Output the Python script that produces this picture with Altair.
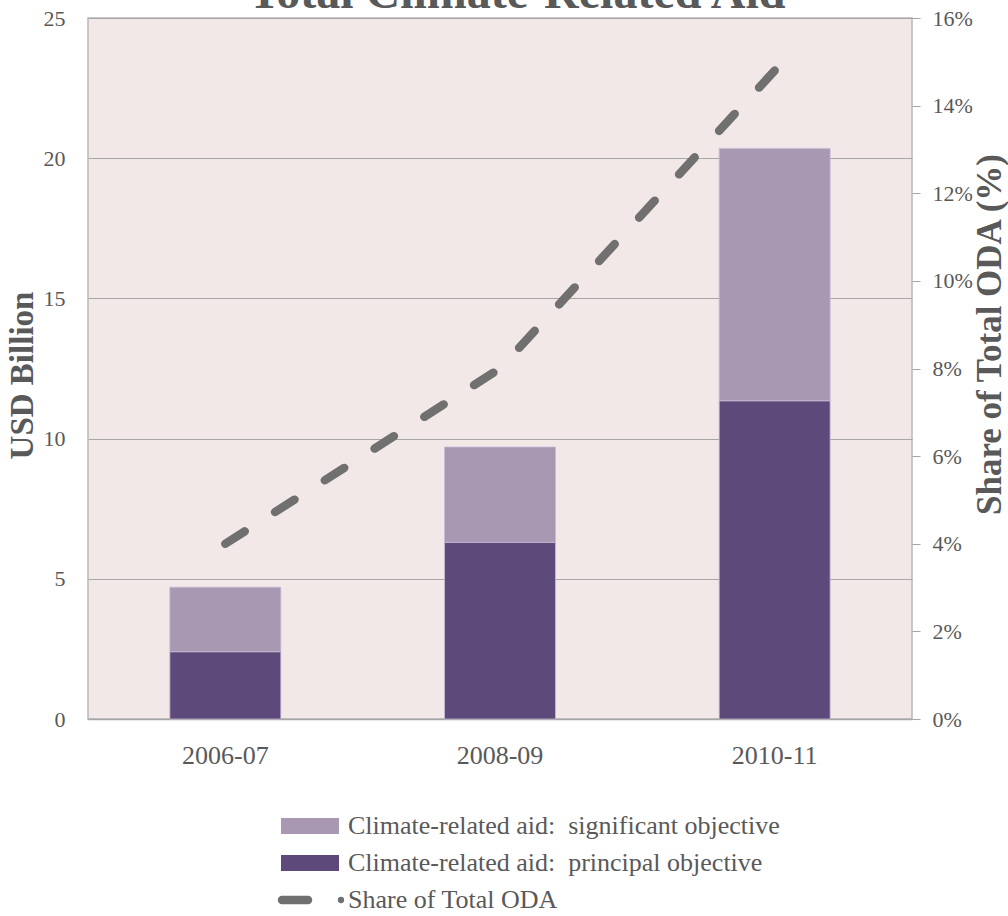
import altair as alt
import pandas as pd

periods = ["2006-07", "2008-09", "2010-11"]
principal = [2.4, 6.3, 11.35]
significant = [2.3, 3.4, 9.0]
share_oda = [0.040, 0.080, 0.148]

series_sig = "Climate-related aid:\u00a0 significant objective"
series_pri = "Climate-related aid:\u00a0 principal objective"
series_line = "Share of Total ODA"
title_text = "Total Climate-Related Aid"

FONT = "Liberation Serif"
GRAY = "#595959"

rows = []
for p, v in zip(periods, principal):
    rows.append({"period": p, "series": series_pri, "value": v, "ord": 0})
for p, v in zip(periods, significant):
    rows.append({"period": p, "series": series_sig, "value": v, "ord": 1})
bars_df = pd.DataFrame(rows)
line_df = pd.DataFrame({"period": periods, "share": share_oda})

xscale = alt.Scale(domain=periods, paddingInner=0.596, paddingOuter=0.298)
xaxis = alt.Axis(title=None, labelFont=FONT, labelFontSize=26, labelColor=GRAY,
                 labelPadding=23, ticks=False, domainColor="#A6A6A6", domainWidth=1.5,
                 labelAngle=0)

bars = alt.Chart(bars_df).mark_bar(stroke="#C9B9D6", strokeWidth=0.8).encode(
    x=alt.X("period:N", scale=xscale, axis=xaxis, sort=periods),
    y=alt.Y("value:Q", stack="zero",
            scale=alt.Scale(domain=[0, 25], nice=False),
            axis=alt.Axis(title="USD Billion", values=[0, 5, 10, 15, 20, 25],
                          labelFont=FONT, labelFontSize=22, labelColor=GRAY,
                          labelPadding=23, ticks=False, domain=False,
                          gridColor="#A6A6A6", gridWidth=1.2,
                          titleFont=FONT, titleFontSize=33, titleFontWeight="bold",
                          titleColor=GRAY, titleX=-66, titleY=357,
                          titleAlign="center", titleBaseline="middle")),
    color=alt.Color("series:N",
                    scale=alt.Scale(domain=[series_sig, series_pri],
                                    range=["#A898B2", "#5E4A7A"]),
                    legend=None),
    order=alt.Order("ord:Q"),
)

line = alt.Chart(line_df).mark_line(
    color="#707070", strokeWidth=8.5, strokeDash=[23, 36], strokeCap="round"
).encode(
    x=alt.X("period:N", scale=xscale, sort=periods, axis=xaxis),
    y=alt.Y("share:Q", scale=alt.Scale(domain=[0, 0.16], nice=False),
            axis=alt.Axis(title="Share of Total ODA (%)", orient="right", format=".0%",
                          values=[0, 0.02, 0.04, 0.06, 0.08, 0.10, 0.12, 0.14, 0.16],
                          labelFont=FONT, labelFontSize=22, labelColor=GRAY,
                          labelPadding=12, ticks=True, tickSize=8, tickColor="#A6A6A6",
                          domain=False, grid=False,
                          titleFont=FONT, titleFontSize=35, titleFontWeight="bold",
                          titleColor=GRAY, titleAngle=270, titleX=77, titleY=316,
                          titleAlign="center", titleBaseline="middle")),
)

title = alt.Chart(pd.DataFrame({"t": [title_text]})).mark_text(
    font=FONT, fontSize=48, fontWeight="bold", color=GRAY, baseline="alphabetic",
    align="center"
).encode(text="t:N", x=alt.value(429), y=alt.value(-10))

# Legend (manual, below the plot)
leg_rect_sig = alt.Chart(pd.DataFrame({"s": [series_sig]})).mark_rect(color="#A898B2").encode(
    x=alt.value(193), x2=alt.value(251), y=alt.value(800), y2=alt.value(816))
leg_rect_pri = alt.Chart(pd.DataFrame({"s": [series_pri]})).mark_rect(color="#5E4A7A").encode(
    x=alt.value(193), x2=alt.value(251), y=alt.value(837), y2=alt.value(853))
leg_line = alt.Chart(pd.DataFrame({"s": [series_line]})).mark_rule(
    color="#707070", strokeWidth=8.5, strokeCap="round").encode(
    x=alt.value(194), x2=alt.value(220), y=alt.value(882))
leg_dot = alt.Chart(pd.DataFrame({"s": [series_line]})).mark_point(
    filled=True, color="#707070", size=40, opacity=1).encode(
    x=alt.value(253), y=alt.value(882))


def leg_label(label, ypos):
    return alt.Chart(pd.DataFrame({"label": [label]})).mark_text(
        font=FONT, fontSize=26, color=GRAY, align="left", baseline="middle"
    ).encode(text="label:N", x=alt.value(260), y=alt.value(ypos))


chart = alt.layer(
    bars, line, title, leg_rect_sig, leg_rect_pri, leg_line, leg_dot,
    leg_label(series_sig, 808), leg_label(series_pri, 845), leg_label(series_line, 882)
).resolve_scale(y="independent").properties(
    width=824, height=701,
    autosize=alt.AutoSizeParams(type="none"),
    padding={"left": 88, "top": 18, "right": 96, "bottom": 197},
    background="white",
).configure_view(
    fill="#F2E8E8", stroke="#B8B8B8", strokeWidth=1.5
)

chart.save("out.html", embed_options={"renderer": "svg", "actions": False})
